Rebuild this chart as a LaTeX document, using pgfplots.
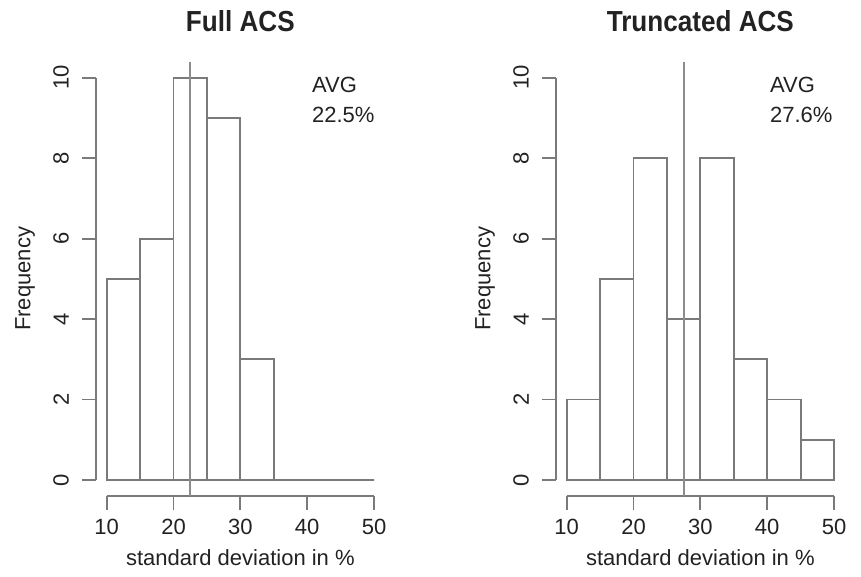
\documentclass[border=0pt]{standalone}
\usepackage{fontspec}
\setmainfont{Liberation Sans}
\usepackage{graphicx}
\usepackage{pgfplots}
\pgfplotsset{compat=1.18}
\definecolor{lg}{HTML}{7A7A7A}
\definecolor{vl}{HTML}{8C8C8C}
\definecolor{tx}{HTML}{222222}
\newcommand\f{\fontsize{22}{30.4}\selectfont}
\pgfplotsset{
  hist/.style={
    scale only axis, width=288.7pt, height=434.5pt,
    xmin=8.4, xmax=51.6, ymin=-0.4, ymax=10.4,
    axis line style={draw=none},
    xtick={10,20,30,40,50}, ytick={0,2,4,6,8,10},
    tick pos=left,
    tick align=outside, major tick length=14pt,
    tick style={lg, line width=1.9pt},
    /pgf/number format/assume math mode=true,
    every tick label/.append style={font=\f, text=tx, inner sep=0pt},
    yticklabel style={rotate=90, anchor=south},
    xticklabel style={anchor=north},
    xticklabel shift=9pt, yticklabel shift=13pt,
    clip=false,
    xlabel={standard deviation in \%},
    ylabel={Frequency},
    label style={font=\f, text=tx, inner sep=0pt},
    xlabel style={at={(axis description cs:0.5,-0.142)}, anchor=center},
    ylabel style={at={(axis description cs:-0.246,0.5)}, anchor=center},
    title style={at={(axis description cs:0.5,1.080)}, anchor=center, inner sep=0pt, text=tx},
  },
  bars/.style={ybar, bar width=5, bar shift=0pt, fill=white, draw=lg, line width=1.9pt},
  avg/.style={vl, line width=1.9pt},
}
\begin{document}
\f
\begin{tikzpicture}
\path (0pt,0pt) rectangle (861pt,577pt);
\begin{axis}[hist, at={(96pt,80.9pt)}, anchor=south west,
  title={\scalebox{0.9}[1]{\fontsize{29}{32}\selectfont\bfseries Full ACS}}]
  \draw[lg, line width=1.9pt] (axis cs:10,-0.4) -- (axis cs:50,-0.4);
  \draw[lg, line width=1.9pt] (axis cs:8.4,0) -- (axis cs:8.4,10);
  \addplot[bars] coordinates {(12.5,5) (17.5,6) (22.5,10) (27.5,9) (32.5,3) (37.5,0) (42.5,0) (47.5,0)};
  \addplot[avg] coordinates {(22.5,-0.4) (22.5,10.4)};
  \node[anchor=north west, align=left, inner sep=0pt, text=tx, font=\f] at (axis cs:40.7,10.02) {AVG\\22.5\%};
\end{axis}
\begin{axis}[hist, at={(556pt,80.9pt)}, anchor=south west,
  title={\scalebox{0.9}[1]{\fontsize{29}{32}\selectfont\bfseries Truncated ACS}}]
  \draw[lg, line width=1.9pt] (axis cs:10,-0.4) -- (axis cs:50,-0.4);
  \draw[lg, line width=1.9pt] (axis cs:8.4,0) -- (axis cs:8.4,10);
  \addplot[bars] coordinates {(12.5,2) (17.5,5) (22.5,8) (27.5,4) (32.5,8) (37.5,3) (42.5,2) (47.5,1)};
  \addplot[avg] coordinates {(27.6,-0.4) (27.6,10.4)};
  \node[anchor=north west, align=left, inner sep=0pt, text=tx, font=\f] at (axis cs:40.4,10.02) {AVG\\27.6\%};
\end{axis}
\end{tikzpicture}
\end{document}
